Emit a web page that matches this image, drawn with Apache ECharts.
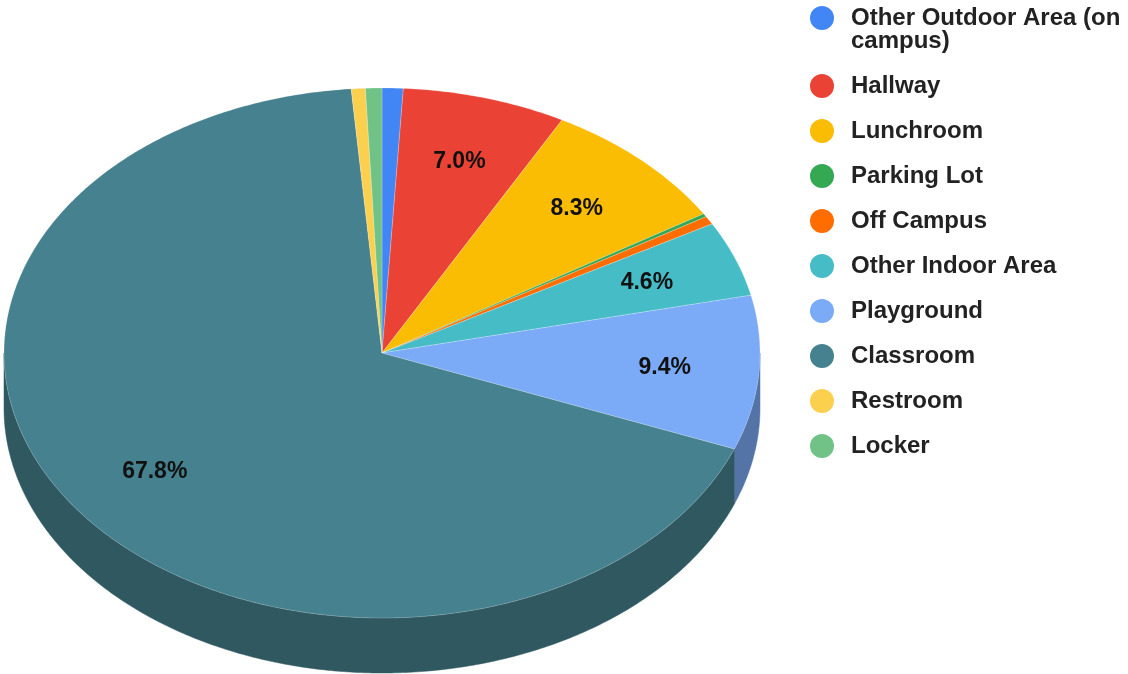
<!DOCTYPE html>
<html><head><meta charset="utf-8">
<script src="https://cdn.jsdelivr.net/npm/echarts@6/dist/echarts.min.js"></script>
<style>html,body{margin:0;padding:0;background:#fff}#c{width:1128px;height:674px}</style>
</head><body><div id="c"></div>
<script>
const categories = ['Other Outdoor Area (on campus)', 'Hallway', 'Lunchroom', 'Parking Lot', 'Off Campus', 'Other Indoor Area', 'Playground', 'Classroom', 'Restroom', 'Locker'];
const values = [0.9, 7.0, 8.3, 0.2, 0.5, 4.6, 9.4, 67.8, 0.6, 0.7];
const colors = ['#4285f4', '#ea4335', '#fbbc04', '#34a853', '#ff6d01', '#46bdc6', '#7baaf7', '#45818e', '#fcd04f', '#71c287'];

const total = values.reduce((a, b) => a + b, 0);
const starts = []; let acc = 0; values.forEach(v => { starts.push(acc); acc += v; });

const CX = 382, CY = 353, RX = 378, RY = 265, DEPTH = 55, LABEL_R = 0.75;
const FONT = '"Liberation Sans", Arial, sans-serif';
function pt(t, dy) { return [CX + RX * Math.sin(t), CY - RY * Math.cos(t) + (dy || 0)]; }
function darken(hex, f) {
  const n = parseInt(hex.slice(1), 16);
  const r = Math.round(((n >> 16) & 255) * f), g = Math.round(((n >> 8) & 255) * f), b = Math.round((n & 255) * f);
  return 'rgb(' + r + ',' + g + ',' + b + ')';
}
function makeRender(i) {
  return function (params, api) {
    const v = api.value(0);
    const t0 = starts[i] / total * 2 * Math.PI, t1 = (starts[i] + v) / total * 2 * Math.PI;
    const children = [];
    const a = Math.max(t0, Math.PI / 2), b = Math.min(t1, 3 * Math.PI / 2);
    if (b > a) {
      const pts = []; const n = Math.max(2, Math.ceil((b - a) / 0.01));
      for (let k = 0; k <= n; k++) pts.push(pt(a + (b - a) * k / n, 0));
      for (let k = n; k >= 0; k--) pts.push(pt(a + (b - a) * k / n, DEPTH));
      children.push({ type: 'polygon', shape: { points: pts }, style: { fill: darken(colors[i], 0.68), stroke: darken(colors[i], 0.68), lineWidth: 0.5 } });
    }
    const tp = [[CX, CY]]; const m = Math.max(2, Math.ceil((t1 - t0) / 0.01));
    for (let k = 0; k <= m; k++) tp.push(pt(t0 + (t1 - t0) * k / m, 0));
    children.push({ type: 'polygon', shape: { points: tp }, style: { fill: colors[i], stroke: 'rgba(255,255,255,0.35)', lineWidth: 0.6 } });
    const pct = v / total * 100;
    if (pct >= 3) {
      const tm = (t0 + t1) / 2;
      children.push({ type: 'text', style: { x: CX + RX * LABEL_R * Math.sin(tm), y: CY - RY * LABEL_R * Math.cos(tm), text: pct.toFixed(1) + '%', align: 'center', verticalAlign: 'middle', font: 'bold 23px ' + FONT, fill: '#111' } });
    }
    return { type: 'group', children };
  };
}
function wrapName(name) {
  if (name.length <= 22) return name;
  const cut = name.lastIndexOf(' ', 22);
  return '\n' + name.slice(0, cut) + '\n' + name.slice(cut + 1);
}
const chart = echarts.init(document.getElementById('c'), null, { renderer: 'canvas' });
chart.setOption({
  animation: false,
  legend: {
    orient: 'vertical', left: 810, top: -17, padding: 0,
    icon: 'circle', itemWidth: 48, itemHeight: 24, itemGap: 21,
    data: categories, selectedMode: false,
    formatter: wrapName,
    textStyle: { fontFamily: FONT, fontWeight: 'bold', fontSize: 24, lineHeight: 23, color: '#222' }
  },
  series: categories.map((name, i) => ({
    type: 'custom', name, coordinateSystem: 'none', silent: true,
    data: [[values[i]]], itemStyle: { color: colors[i] }, renderItem: makeRender(i)
  }))
});
</script></body></html>
